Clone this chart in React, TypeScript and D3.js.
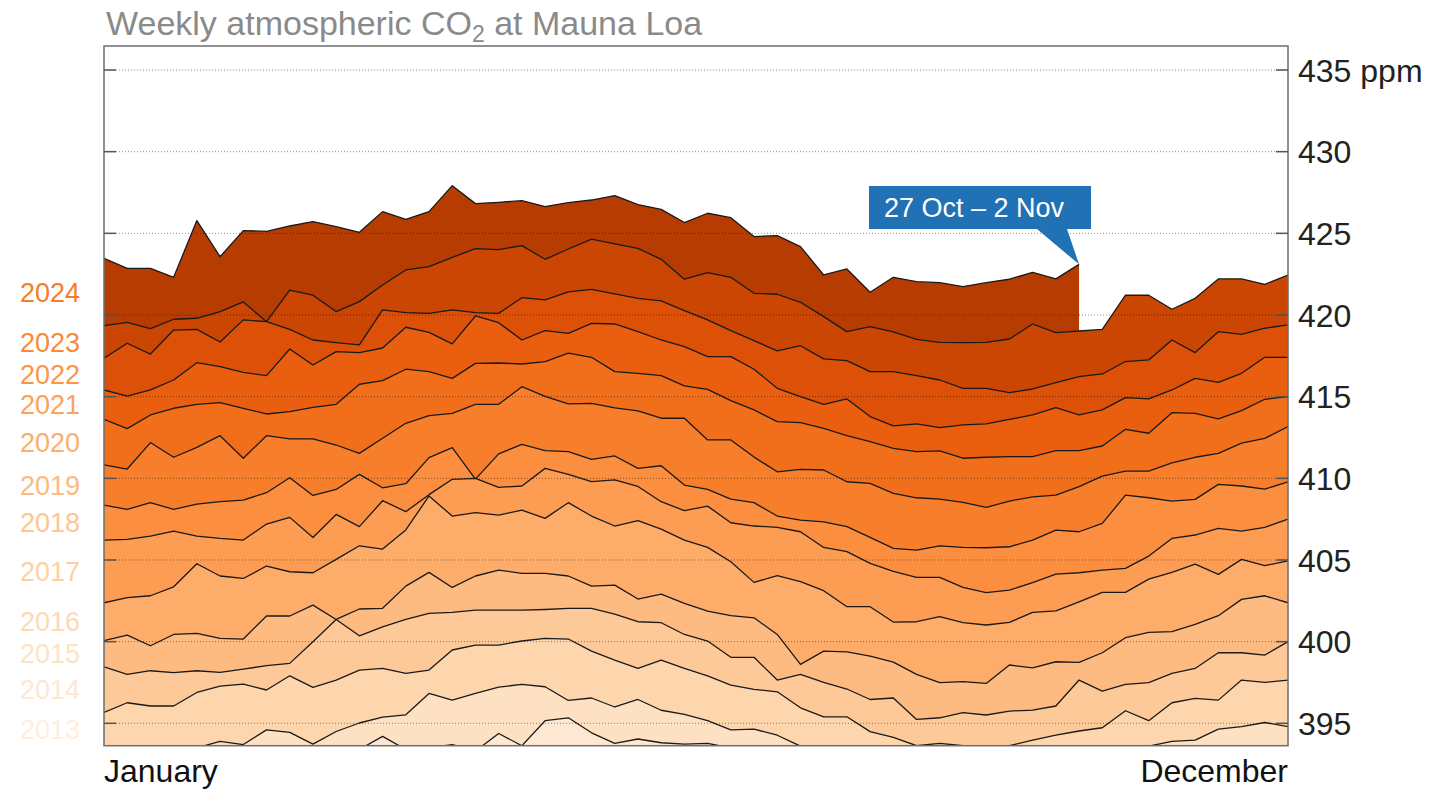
import React from "react";
import * as d3 from "d3";

// ---------- DATA (weekly CO2, ppm, week index 0..51) ----------
const years = [2011, 2012, 2013, 2014, 2015, 2016, 2017, 2018, 2019, 2020, 2021, 2022, 2023, 2024];
const labeledYears = [2013, 2014, 2015, 2016, 2017, 2018, 2019, 2020, 2021, 2022, 2023, 2024];

const co2_2011 = [391.3, 391.6, 391.8, 391.9, 392.1, 392.4, 392.5, 392.6, 392.8, 392.9, 393.1, 393.4, 394.2, 393.4, 393.5, 393.7, 393.3, 394.38, 393.63, 395.16, 395.34, 394.42, 393.77, 394.04, 393.81, 393.73, 393.77, 393.5, 393.2, 392.7, 392.3, 391.8, 391.3, 390.9, 390.6, 390.3, 390.2, 390.1, 390.2, 390.4, 390.6, 390.9, 391.1, 391.3, 391.4, 391.6, 391.8, 392.0, 392.2, 392.4, 392.5, 392.6];
const co2_2012 = [393.1, 393.2, 393.0, 393.3, 393.5, 393.9, 393.7, 394.6, 394.45, 393.73, 394.5, 395.02, 395.38, 395.52, 396.83, 396.42, 396.84, 397.22, 397.38, 397.24, 396.4, 396.55, 396.0, 396.46, 395.8, 395.55, 395.17, 394.6, 394.65, 394.27, 393.6, 393.3, 393.0, 392.8, 392.6, 392.5, 392.4, 392.4, 392.5, 392.6, 392.9, 393.2, 393.4, 393.5, 393.6, 393.6, 393.9, 393.97, 394.65, 394.8, 395.05, 394.8];
const co2_2013 = [395.67, 396.26, 396.06, 396.06, 396.89, 397.28, 397.4, 397.04, 397.91, 397.2, 397.65, 398.26, 398.36, 398.06, 398.26, 399.49, 399.79, 399.79, 400.04, 400.2, 400.16, 399.42, 398.87, 398.36, 398.87, 398.36, 397.91, 397.34, 397.08, 396.93, 395.95, 395.4, 395.4, 394.49, 394.14, 393.63, 393.77, 393.63, 393.6, 393.63, 393.97, 394.28, 394.53, 394.73, 395.77, 395.16, 396.26, 396.53, 396.42, 397.65, 397.51, 397.65];
const co2_2014 = [398.46, 398.0, 398.22, 398.1, 398.22, 398.12, 398.32, 398.53, 398.67, 400.0, 401.36, 400.36, 400.91, 401.36, 401.73, 401.79, 401.93, 401.93, 401.93, 401.97, 402.04, 402.04, 401.69, 401.22, 401.16, 400.44, 400.04, 399.04, 399.04, 397.65, 398.0, 397.51, 397.1, 396.46, 396.55, 395.24, 395.34, 395.65, 395.51, 395.75, 395.81, 396.06, 397.65, 396.97, 397.38, 397.49, 398.06, 398.36, 399.32, 399.32, 399.18, 400.0];
const co2_2015 = [400.06, 400.4, 399.75, 400.44, 400.51, 400.2, 400.16, 401.57, 401.57, 402.24, 401.36, 402.0, 402.04, 403.4, 404.24, 403.32, 404.02, 404.38, 404.18, 404.18, 404.02, 403.4, 403.46, 402.61, 402.91, 402.34, 401.87, 401.59, 401.46, 400.44, 398.61, 399.42, 399.38, 399.12, 398.75, 398.0, 397.49, 397.55, 397.44, 398.57, 398.4, 398.77, 398.73, 399.32, 400.24, 400.57, 400.61, 401.06, 401.59, 402.59, 402.81, 402.38];
const co2_2016 = [402.38, 402.69, 402.81, 403.36, 404.77, 404.02, 403.87, 404.63, 404.28, 404.22, 405.04, 405.87, 405.67, 406.84, 408.92, 407.69, 407.9, 407.75, 408.06, 407.55, 408.51, 407.69, 407.08, 407.41, 406.89, 406.22, 405.77, 404.89, 403.63, 404.04, 403.67, 403.12, 402.14, 402.14, 401.2, 401.22, 401.53, 401.16, 401.02, 401.18, 401.79, 401.89, 402.44, 403.02, 403.02, 403.83, 404.24, 404.75, 404.12, 405.04, 404.65, 404.95];
const co2_2017 = [406.22, 406.26, 406.46, 406.77, 406.46, 406.32, 406.22, 407.2, 407.61, 406.38, 407.79, 407.04, 408.63, 407.96, 409.0, 409.94, 410.0, 409.45, 409.53, 410.61, 410.24, 409.8, 409.9, 409.5, 408.57, 408.02, 408.3, 407.28, 407.08, 407.0, 406.73, 405.77, 405.51, 404.79, 404.3, 403.93, 403.93, 403.32, 403.0, 403.16, 403.61, 404.14, 404.22, 404.38, 404.49, 405.24, 406.32, 406.53, 406.93, 406.77, 407.0, 407.5];
const co2_2018 = [408.36, 408.1, 408.51, 408.1, 408.42, 408.57, 408.67, 409.12, 410.04, 408.95, 409.32, 410.24, 409.42, 409.67, 411.27, 411.88, 409.95, 411.5, 412.08, 411.7, 411.63, 411.16, 411.37, 410.61, 410.77, 409.59, 409.32, 408.73, 408.51, 407.69, 407.44, 407.34, 407.04, 406.38, 405.71, 405.61, 405.87, 405.77, 405.75, 405.81, 406.22, 406.83, 406.73, 407.24, 408.97, 408.81, 408.61, 408.71, 409.63, 409.53, 409.34, 409.79];
const co2_2019 = [410.82, 410.57, 412.19, 411.29, 411.9, 412.61, 411.23, 412.61, 412.41, 412.41, 412.04, 411.53, 412.45, 413.37, 413.84, 413.98, 414.53, 414.53, 415.61, 415.02, 414.56, 414.59, 414.32, 414.13, 413.68, 413.68, 412.35, 412.35, 411.3, 410.4, 410.55, 410.51, 409.79, 409.69, 409.08, 408.81, 408.73, 408.53, 408.22, 408.61, 408.87, 408.97, 409.49, 410.14, 410.44, 410.44, 410.94, 411.29, 411.53, 412.15, 412.45, 413.17];
const co2_2020 = [413.61, 413.04, 413.88, 414.29, 414.53, 414.64, 414.29, 413.94, 414.08, 414.35, 414.53, 415.76, 415.98, 416.68, 416.53, 416.12, 417.04, 417.06, 417.0, 417.15, 417.66, 417.41, 416.53, 416.43, 416.29, 415.66, 415.45, 414.76, 414.19, 413.47, 413.41, 413.06, 412.61, 412.25, 411.84, 411.64, 411.68, 411.23, 411.29, 411.33, 411.33, 411.7, 411.7, 411.98, 413.0, 412.76, 414.02, 413.98, 413.64, 414.15, 414.84, 415.0];
const co2_2021 = [415.41, 415.04, 415.41, 416.02, 417.08, 416.84, 416.49, 416.29, 417.92, 416.94, 417.76, 417.7, 417.98, 419.25, 418.94, 418.23, 419.94, 419.53, 418.47, 419.04, 418.88, 419.49, 419.45, 418.98, 418.47, 418.06, 417.45, 417.45, 416.68, 415.51, 415.0, 414.53, 414.86, 413.78, 413.21, 413.33, 413.1, 413.27, 413.33, 413.61, 413.88, 414.33, 413.88, 414.19, 414.94, 414.86, 415.41, 416.12, 415.88, 416.43, 417.41, 417.41];
const co2_2022 = [417.35, 418.27, 417.61, 419.08, 419.12, 418.35, 419.7, 419.59, 419.12, 418.47, 418.31, 418.17, 420.31, 420.15, 420.1, 420.31, 420.15, 420.1, 421.06, 420.92, 421.41, 421.57, 421.29, 421.02, 420.86, 420.27, 419.7, 419.04, 418.43, 417.8, 418.12, 417.31, 417.21, 416.53, 416.53, 416.29, 416.02, 415.51, 415.51, 415.25, 415.47, 415.86, 416.23, 416.39, 417.15, 417.25, 418.47, 417.7, 418.98, 418.82, 419.19, 419.39];
const co2_2023 = [419.35, 419.55, 419.17, 419.74, 419.8, 420.21, 420.8, 419.59, 421.53, 421.21, 420.21, 420.82, 421.84, 422.76, 422.96, 423.53, 424.06, 424.0, 424.25, 423.41, 424.04, 424.64, 424.35, 424.08, 423.41, 422.19, 422.59, 422.31, 421.33, 421.27, 420.78, 419.9, 418.98, 419.29, 418.96, 418.51, 418.33, 418.31, 418.33, 418.53, 419.45, 418.92, 419.02, 419.12, 421.21, 421.21, 420.35, 421.02, 422.21, 422.21, 421.88, 422.45];
const co2_2024 = [423.47, 422.86, 422.86, 422.31, 425.78, 423.57, 425.17, 425.12, 425.45, 425.72, 425.41, 425.06, 426.33, 425.86, 426.33, 427.92, 426.82, 426.9, 427.0, 426.64, 426.88, 427.04, 427.31, 426.76, 426.47, 425.66, 426.23, 425.96, 424.8, 424.86, 424.19, 422.45, 422.82, 421.39, 422.31, 422.04, 421.98, 421.74, 421.98, 422.19, 422.61, 422.21, 423.1];

const seriesByYear: Record<number, number[]> = {
  2011: co2_2011, 2012: co2_2012, 2013: co2_2013, 2014: co2_2014, 2015: co2_2015,
  2016: co2_2016, 2017: co2_2017, 2018: co2_2018, 2019: co2_2019, 2020: co2_2020,
  2021: co2_2021, 2022: co2_2022, 2023: co2_2023, 2024: co2_2024,
};

const yTicks = [395, 400, 405, 410, 415, 420, 425, 430, 435];
const weeksPerYear = 52;
const latestWeekLabel = "27 Oct \u2013 2 Nov";
const titleMain = "Weekly atmospheric CO";
const titleSub = "2";
const titleEnd = " at Mauna Loa";
const monthStart = "January";
const monthEnd = "December";

// ---------- LAYOUT ----------
const W = 1430;
const H = 791;
const L = 104, R = 1288, T = 46, B = 745.7;
const FONT = "'Liberation Sans', Arial, Helvetica, sans-serif";

export default function App() {
  const x = d3.scaleLinear().domain([0, weeksPerYear - 1]).range([L, R]);
  const y = d3.scaleLinear().domain([393.63, 436.47]).range([B, T]);

  const area = d3.area<number>().x((_, i) => x(i)).y0(B).y1((d) => y(d));
  const line = d3.line<number>().x((_, i) => x(i)).y((d) => y(d));

  const fillT = (yr: number) => 0.1 + (yr - 2011) * 0.0565;
  const labelT = (yr: number) => 0.56 - (2024 - yr) * 0.046;

  const drawOrder = [...years].reverse(); // newest first, older painted on top

  const last = co2_2024.length - 1;
  const tipX = x(last);
  const tipY = y(co2_2024[last]);
  const boxX = 869, boxY = 186, boxW = 222, boxH = 43;

  return (
    <svg
      width={W}
      height={H}
      viewBox={`0 0 ${W} ${H}`}
      style={{ position: "absolute", left: 0, top: 0, background: "#fff" }}
      fontFamily={FONT}
    >
      <defs>
        <clipPath id="plotClip">
          <rect x={L} y={T} width={R - L} height={B - T} />
        </clipPath>
      </defs>

      {/* title */}
      <text x={106} y={35} fontSize={34} fill="#8a8a8a">
        {titleMain}
        <tspan fontSize={23} dy={7}>{titleSub}</tspan>
        <tspan dy={-7}>{titleEnd}</tspan>
      </text>

      {/* areas + lines */}
      <g clipPath="url(#plotClip)">
        {drawOrder.map((yr) => {
          const s = seriesByYear[yr];
          return (
            <g key={yr}>
              <path d={area(s) || ""} fill={d3.interpolateOranges(fillT(yr))} stroke="none" />
              <path d={line(s) || ""} fill="none" stroke="#1a1a1a" strokeWidth={1.3} strokeLinejoin="round" />
            </g>
          );
        })}
        {/* gridlines */}
        {yTicks.map((t) => (
          <line
            key={t}
            x1={L}
            x2={R}
            y1={y(t)}
            y2={y(t)}
            stroke="#000"
            strokeOpacity={0.45}
            strokeWidth={1}
            strokeDasharray="1 2"
          />
        ))}
      </g>

      {/* frame */}
      <rect x={L} y={T} width={R - L} height={B - T} fill="none" stroke="#6e6e6e" strokeWidth={1.5} />

      {/* ticks */}
      {yTicks.map((t) => (
        <g key={t}>
          <line x1={L} x2={L + 12} y1={y(t)} y2={y(t)} stroke="#555" strokeWidth={1.5} />
          <line x1={R - 12} x2={R} y1={y(t)} y2={y(t)} stroke="#555" strokeWidth={1.5} />
          <text x={1298} y={y(t)} dy="0.36em" fontSize={32} fill="#222">
            {t === 435 ? `${t} ppm` : `${t}`}
          </text>
        </g>
      ))}

      {/* year labels */}
      {labeledYears.map((yr) => {
        const top = y(seriesByYear[yr][0]);
        const bot = Math.min(y(seriesByYear[yr - 1][0]), B);
        const mid = (top + bot) / 2;
        return (
          <text key={yr} x={80} y={mid} dy="0.36em" textAnchor="end" fontSize={27} fill={d3.interpolateOranges(labelT(yr))}>
            {yr}
          </text>
        );
      })}

      {/* x labels */}
      <text x={L} y={782} fontSize={32} fill="#111">{monthStart}</text>
      <text x={R} y={782} fontSize={32} fill="#111" textAnchor="end">{monthEnd}</text>

      {/* annotation */}
      <path
        d={`M${boxX},${boxY} H${boxX + boxW} V${boxY + boxH} H${1067} L${tipX},${tipY} L${1037},${boxY + boxH} H${boxX} Z`}
        fill="#2171b5"
      />
      <text x={884} y={boxY + boxH / 2} dy="0.36em" fontSize={27} fill="#fff">{latestWeekLabel}</text>
    </svg>
  );
}
